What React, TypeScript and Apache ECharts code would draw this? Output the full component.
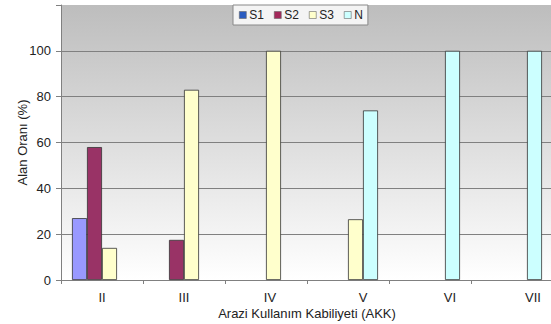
import React, { useEffect, useRef } from "react";
import * as echarts from "echarts";

const categories = ["II", "III", "IV", "V", "VI", "VII"];
const seriesNames = ["S1", "S2", "S3", "N"];
const s1Values: (number | null)[] = [27, null, null, null, null, null];
const s2Values: (number | null)[] = [58, 17.5, null, null, null, null];
const s3Values: (number | null)[] = [14, 83, 100, 26.5, null, null];
const nValues: (number | null)[] = [null, null, null, 74, 100, 100];
const yTicks = [0, 20, 40, 60, 80, 100];

const barColors = ["#9999ff", "#993366", "#ffffcc", "#ccffff"];
const legendColors = ["#2a5cc0", "#a3285a", "#ffffcc", "#ccffff"];
const labelShift = [0, 0, 8, 30, 40, 42];

const FONT = "Liberation Sans, Arial, sans-serif";

export default function App() {
  const ref = useRef<HTMLDivElement>(null);
  useEffect(() => {
    document.body.style.margin = "0";
    const chart = echarts.init(ref.current!, null, { renderer: "svg" });
    const allValues = [s1Values, s2Values, s3Values, nValues];
    const rich: any = {};
    labelShift.forEach((p, i) => {
      rich["a" + i] = {
        padding: [0, 0, 0, p],
        fontFamily: FONT,
        fontSize: 13,
        color: "#222",
      };
    });
    chart.setOption({
      animation: false,
      textStyle: { fontFamily: FONT },
      legend: {
        data: seriesNames.map((n, i) => ({
          name: n,
          itemStyle: { color: legendColors[i], borderColor: "#666", borderWidth: 0.6 },
        })),
        left: 233,
        top: 5,
        itemWidth: 7,
        itemHeight: 7,
        itemGap: 10,
        icon: "rect",
        backgroundColor: "#f4f4f4",
        borderColor: "#888",
        borderWidth: 1,
        padding: [4, 5, 4, 6],
        textStyle: { fontSize: 12, color: "#222", padding: [0, 0, 0, -2] },
      },
      grid: {
        left: 61,
        top: 5,
        width: 492,
        bottom: 44,
        outerBoundsMode: "none",
        containLabel: false,
        show: true,
        borderWidth: 0,
        backgroundColor: new echarts.graphic.LinearGradient(0, 0, 0, 1, [
          { offset: 0, color: "#bdbdbd" },
          { offset: 1, color: "#ffffff" },
        ]),
      },
      xAxis: {
        type: "category",
        data: categories,
        name: "Arazi Kullanım Kabiliyeti (AKK)",
        nameLocation: "middle",
        nameGap: 27,
        nameMoveOverlap: false,
        nameTextStyle: { fontSize: 13, color: "#222" },
        axisLine: { lineStyle: { color: "#808080", width: 1 } },
        axisTick: { show: true, length: 4, lineStyle: { color: "#808080" } },
        axisLabel: {
          margin: 11,
          fontSize: 13,
          color: "#222",
          formatter: (v: string, i: number) => `{a${i}|${v}}`,
          rich,
        },
      },
      yAxis: {
        type: "value",
        min: 0,
        max: 120,
        interval: 20,
        name: "Alan Oranı (%)",
        nameLocation: "middle",
        nameGap: 32,
        nameMoveOverlap: false,
        nameTextStyle: { fontSize: 13, color: "#222" },
        axisLine: { show: true, lineStyle: { color: "#808080", width: 1 } },
        axisTick: { show: true, length: 5, lineStyle: { color: "#808080" } },
        axisLabel: {
          fontSize: 13,
          color: "#222",
          margin: 10,
          formatter: (v: number) => (yTicks.includes(v) ? String(v) : ""),
        },
        splitLine: {
          show: true,
          lineStyle: {
            color: ["#808080", "#808080", "#808080", "#808080", "#808080", "#808080", "transparent"],
            width: 1,
          },
        },
      },
      series: seriesNames.map((n, i) => ({
        name: n,
        type: "bar",
        data: allValues[i],
        barWidth: 15,
        barGap: "0%",
        itemStyle: { color: barColors[i], borderColor: "#333", borderWidth: 0.8 },
      })),
    });
    return () => chart.dispose();
  }, []);
  return <div ref={ref} style={{ width: 551, height: 324 }} />;
}
